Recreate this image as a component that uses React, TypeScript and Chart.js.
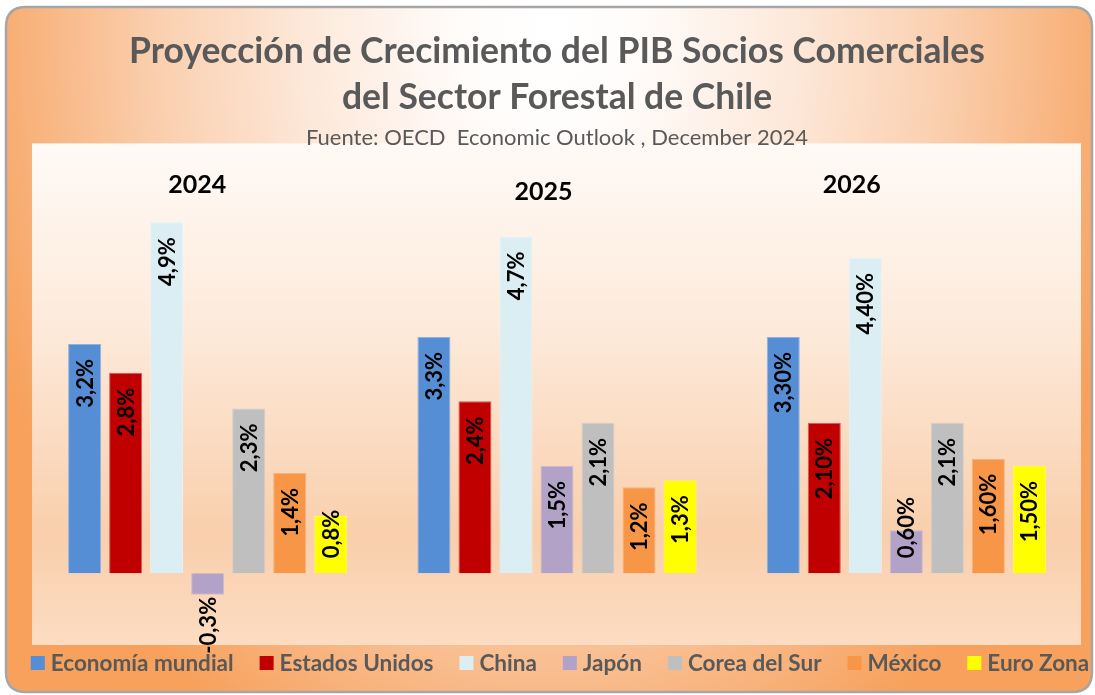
import React, { useEffect, useRef } from 'react';
import { Chart, registerables } from 'chart.js';

Chart.register(...registerables);

// ---------- DATA ----------
const years = ['2024', '2025', '2026'];
const seriesNames = ['Economía mundial', 'Estados Unidos', 'China', 'Japón', 'Corea del Sur', 'México', 'Euro Zona'];

const economiaMundial = [3.2, 3.3, 3.3];
const estadosUnidos = [2.8, 2.4, 2.1];
const china = [4.9, 4.7, 4.4];
const japon = [-0.3, 1.5, 0.6];
const coreaDelSur = [2.3, 2.1, 2.1];
const mexico = [1.4, 1.2, 1.6];
const euroZona = [0.8, 1.3, 1.5];

const economiaMundialLabels = ['3,2%', '3,3%', '3,30%'];
const estadosUnidosLabels = ['2,8%', '2,4%', '2,10%'];
const chinaLabels = ['4,9%', '4,7%', '4,40%'];
const japonLabels = ['-0,3%', '1,5%', '0,60%'];
const coreaDelSurLabels = ['2,3%', '2,1%', '2,1%'];
const mexicoLabels = ['1,4%', '1,2%', '1,60%'];
const euroZonaLabels = ['0,8%', '1,3%', '1,50%'];

const titleLines = ['Proyección de Crecimiento del PIB Socios Comerciales', 'del Sector Forestal de Chile'];
const subtitleText = 'Fuente: OECD  Economic Outlook , December 2024';

const yMin = -1;
const yMax = 6;

// ---------- STYLE ----------
const fillColors = ['#558ed5', '#c00000', '#dbeef4', '#b3a2c7', '#bfbfbf', '#f79646', '#ffff00'];
const borderColors = ['#8db3e2', '#d65a5a', '#e8f3f7', '#c8bbd8', '#cfcfcf', '#f9b07c', '#ffff40'];
const FONT = 'Lato, "Open Sans", "Noto Sans", sans-serif';
const GRAY = '#595959';

const seriesValues = [economiaMundial, estadosUnidos, china, japon, coreaDelSur, mexico, euroZona];
const seriesLabels = [
  economiaMundialLabels, estadosUnidosLabels, chinaLabels, japonLabels,
  coreaDelSurLabels, mexicoLabels, euroZonaLabels,
];

function roundRectPath(ctx: CanvasRenderingContext2D, x: number, y: number, w: number, h: number, r: number) {
  ctx.beginPath();
  ctx.moveTo(x + r, y);
  ctx.lineTo(x + w - r, y);
  ctx.quadraticCurveTo(x + w, y, x + w, y + r);
  ctx.lineTo(x + w, y + h - r);
  ctx.quadraticCurveTo(x + w, y + h, x + w - r, y + h);
  ctx.lineTo(x + r, y + h);
  ctx.quadraticCurveTo(x, y + h, x, y + h - r);
  ctx.lineTo(x, y + r);
  ctx.quadraticCurveTo(x, y, x + r, y);
  ctx.closePath();
}

const backgroundPlugin = {
  id: 'chartBackground',
  beforeDraw(chart: any) {
    const { ctx, chartArea } = chart;
    ctx.save();
    roundRectPath(ctx, 6, 7, 1086, 685, 20);
    ctx.clip();
    ctx.save();
    ctx.translate(550, 30);
    ctx.scale(1, 1.35);
    const g = ctx.createRadialGradient(0, 0, 0, 0, 0, 600);
    g.addColorStop(0, '#ffffff');
    g.addColorStop(0.15, '#fffcfa');
    g.addColorStop(0.4, '#fde9db');
    g.addColorStop(0.65, '#fad0b0');
    g.addColorStop(0.86, '#f8b47f');
    g.addColorStop(1, '#f7a15c');
    ctx.fillStyle = g;
    ctx.fillRect(-700, -100, 1400, 800);
    ctx.restore();

    const pg = ctx.createLinearGradient(0, chartArea.top, 0, chartArea.bottom);
    pg.addColorStop(0, '#fffaf6');
    pg.addColorStop(0.35, '#fdebdc');
    pg.addColorStop(0.78, '#f9cfac');
    pg.addColorStop(1, '#fcdcc2');
    ctx.fillStyle = pg;
    ctx.fillRect(chartArea.left - 1, chartArea.top, chartArea.right - chartArea.left + 1, chartArea.bottom - chartArea.top);
    ctx.restore();
  },
  afterDraw(chart: any) {
    const { ctx } = chart;
    ctx.save();
    roundRectPath(ctx, 6, 7, 1086, 685, 20);
    ctx.strokeStyle = '#a6a6a6';
    ctx.lineWidth = 2.5;
    ctx.stroke();
    ctx.restore();
  },
};

const valueLabelPlugin = {
  id: 'valueLabels',
  afterDatasetsDraw(chart: any) {
    const { ctx } = chart;
    ctx.save();
    ctx.font = `bold 22px ${FONT}`;
    ctx.fillStyle = '#000000';
    chart.data.datasets.forEach((ds: any, di: number) => {
      const meta = chart.getDatasetMeta(di);
      meta.data.forEach((el: any, i: number) => {
        const v = ds.data[i];
        const txt = seriesLabels[di][i];
        const len = ctx.measureText(txt).width;
        const { x, y, base } = el.getProps(['x', 'y', 'base'], true);
        let yEnd: number;
        if (v >= 0) {
          yEnd = y + 15;
          if (yEnd + len > base - 15) yEnd = base - 15 - len;
        } else {
          yEnd = y + 2;
        }
        ctx.save();
        ctx.translate(x + 1, yEnd);
        ctx.rotate(-Math.PI / 2);
        ctx.textAlign = 'right';
        ctx.textBaseline = 'middle';
        ctx.fillText(txt, 0, 0);
        ctx.restore();
      });
    });
    ctx.restore();
  },
};

const yearLabelPlugin = {
  id: 'yearLabels',
  afterDatasetsDraw(chart: any, _args: any, opts: any) {
    const { ctx } = chart;
    const xScale = chart.scales.x;
    ctx.save();
    ctx.font = `bold 25px ${FONT}`;
    ctx.fillStyle = '#000000';
    ctx.textAlign = 'center';
    ctx.textBaseline = 'alphabetic';
    chart.data.labels.forEach((lab: string, i: number) => {
      const x = xScale.getPixelForValue(i) + opts.dx[i];
      ctx.fillText(lab, x, chart.chartArea.top + opts.dy[i]);
    });
    ctx.restore();
  },
};

const customLegendPlugin = {
  id: 'customLegend',
  afterDraw(chart: any) {
    const { ctx, chartArea } = chart;
    ctx.save();
    ctx.font = `bold 22.5px ${FONT}`;
    const box = 14;
    const gapBoxText = 6;
    const gapItems = 26;
    const items = chart.data.datasets.map((d: any) => ({
      text: d.label,
      color: d.backgroundColor,
      w: ctx.measureText(d.label).width,
    }));
    let total = 0;
    items.forEach((it: any, i: number) => {
      total += box + gapBoxText + it.w + (i < items.length - 1 ? gapItems : 0);
    });
    let x = (chartArea.left + chartArea.right) / 2 + 3 - total / 2;
    const cy = chartArea.bottom + 18;
    ctx.textBaseline = 'middle';
    ctx.textAlign = 'left';
    items.forEach((it: any) => {
      ctx.fillStyle = it.color;
      ctx.fillRect(x, cy - box / 2, box, box);
      ctx.fillStyle = GRAY;
      ctx.fillText(it.text, x + box + gapBoxText, cy + 0.5);
      x += box + gapBoxText + it.w + gapItems;
    });
    ctx.restore();
  },
};

export default function App() {
  const canvasRef = useRef<HTMLCanvasElement | null>(null);

  useEffect(() => {
    if (!canvasRef.current) return;
    const chart = new Chart(canvasRef.current, {
      type: 'bar',
      data: {
        labels: years,
        datasets: seriesNames.map((name, i) => ({
          label: name,
          data: seriesValues[i],
          backgroundColor: fillColors[i],
          borderColor: borderColors[i],
          borderWidth: 1,
          categoryPercentage: 0.822,
          barPercentage: 0.805,
        })),
      },
      options: {
        animation: false,
        responsive: false,
        devicePixelRatio: 1,
        layout: { padding: { left: 33, right: 14, top: 0, bottom: 50 } },
        scales: {
          x: { display: false, grid: { display: false } },
          y: { display: false, min: yMin, max: yMax, grid: { display: false } },
        },
        plugins: {
          legend: { display: false },
          tooltip: { enabled: false },
          title: {
            display: true,
            text: titleLines,
            color: GRAY,
            font: { family: FONT, size: 35.5, weight: 'bold', lineHeight: 1.31 },
            padding: { top: 28, bottom: 11.4 },
          },
          subtitle: {
            display: true,
            text: subtitleText,
            color: GRAY,
            font: { family: FONT, size: 22, weight: 'normal', lineHeight: 0.5 },
            padding: { top: 0, bottom: 0 },
          },
          yearLabels: { dx: [-10.5, -13.5, -54.5], dy: [50, 57, 50] },
        } as any,
      },
      plugins: [backgroundPlugin, valueLabelPlugin, yearLabelPlugin, customLegendPlugin],
    });
    return () => chart.destroy();
  }, []);

  return (
    <div style={{ position: 'fixed', left: 0, top: 0, width: 1095, height: 695 }}>
      <canvas ref={canvasRef} width={1095} height={695} style={{ display: 'block' }} />
    </div>
  );
}
